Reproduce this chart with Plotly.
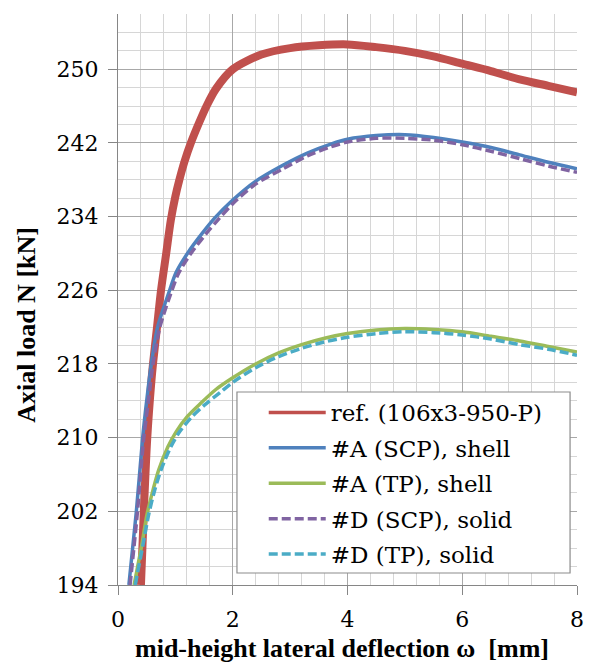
import plotly.graph_objects as go

# Axial load N [kN] versus mid-height lateral deflection ω [mm]
ref_x = [0.40, 0.45, 0.51, 0.58, 0.61, 0.68, 0.75, 0.84, 0.92, 1.00, 1.07, 1.16, 1.27, 1.40,
         1.55, 1.71, 2.00, 2.50, 3.00, 3.50, 4.00, 4.50, 5.00, 5.50, 6.00, 6.50, 7.00, 7.50, 8.00]
ref_n = [194.0, 202.0, 210.0, 216.0, 218.0, 222.0, 226.0, 230.0, 233.6, 236.2, 238.0, 240.0, 242.0, 244.0,
         246.1, 247.9, 250.0, 251.6, 252.3, 252.6, 252.7, 252.4, 252.0, 251.4, 250.6, 249.8, 248.9, 248.2, 247.5]

a_scp_x = [0.19, 0.32, 0.43, 0.50, 0.58, 0.69, 0.90, 1.01, 1.21, 1.47, 1.68, 2.00, 2.39, 2.88,
           3.30, 3.72, 4.00, 4.50, 5.00, 5.50, 6.00, 6.50, 7.00, 7.50, 8.00]
a_scp_n = [194.0, 202.0, 210.0, 214.0, 218.0, 222.0, 226.0, 227.9, 230.0, 232.2, 233.8, 235.8, 237.8, 239.6,
           240.9, 241.9, 242.4, 242.8, 242.9, 242.6, 242.1, 241.5, 240.7, 239.9, 239.2]

a_tp_x = [0.28, 0.41, 0.51, 0.61, 0.71, 0.87, 1.01, 1.21, 1.42, 1.70, 2.00, 2.40, 2.80, 3.20,
          3.60, 4.00, 4.50, 5.00, 5.50, 6.00, 6.50, 7.00, 7.50, 8.00]
a_tp_n = [194.0, 198.2, 201.8, 204.3, 206.5, 209.0, 210.6, 212.3, 213.6, 215.2, 216.5, 218.0, 219.2, 220.1,
          220.8, 221.3, 221.7, 221.85, 221.75, 221.5, 221.0, 220.5, 219.9, 219.3]

d_scp_x = [0.21, 0.34, 0.45, 0.53, 0.61, 0.73, 0.94, 1.06, 1.27, 1.53, 1.75, 2.00, 2.39, 2.88,
           3.30, 3.72, 4.00, 4.50, 5.00, 5.50, 6.00, 6.50, 7.00, 7.50, 8.00]
d_scp_n = [194.0, 202.0, 210.0, 214.0, 218.0, 222.0, 226.0, 227.9, 230.0, 232.1, 233.7, 235.4, 237.5, 239.2,
           240.6, 241.6, 242.1, 242.5, 242.5, 242.3, 241.8, 241.1, 240.3, 239.5, 238.8]

d_tp_x = [0.30, 0.43, 0.54, 0.64, 0.75, 0.92, 1.07, 1.28, 1.50, 1.78, 2.00, 2.40, 2.80, 3.20,
          3.60, 4.00, 4.50, 5.00, 5.50, 6.00, 6.50, 7.00, 7.50, 8.00]
d_tp_n = [194.0, 198.2, 201.8, 204.3, 206.5, 209.0, 210.6, 212.2, 213.5, 214.9, 216.0, 217.6, 218.8, 219.7,
          220.4, 220.9, 221.3, 221.5, 221.4, 221.15, 220.7, 220.1, 219.6, 218.95]

series_names = ["ref. (106x3-950-P)", "#A (SCP), shell", "#A (TP), shell",
                "#D (SCP), solid", "#D (TP), solid"]
x_ticks = [0, 2, 4, 6, 8]
y_ticks = [194, 202, 210, 218, 226, 234, 242, 250]

RED, BLUE, GREEN, PURPLE, CYAN = "#C0504D", "#4F81BD", "#9BBB59", "#8064A2", "#4BACC6"
TEXT_FONT = "DejaVu Serif"
TITLE_FONT = "Liberation Serif"
DASH = "9px,4px"

fig = go.Figure()

# measured curve: thick band; model curves: thinner solid / dashed lines
fig.add_trace(go.Scatter(x=ref_x, y=ref_n, mode="lines", showlegend=False,
                         line=dict(color=RED, width=8, shape="spline", smoothing=0.8)))
fig.add_trace(go.Scatter(x=a_scp_x, y=a_scp_n, mode="lines", showlegend=False,
                         line=dict(color=BLUE, width=3.5, shape="spline", smoothing=0.8)))
fig.add_trace(go.Scatter(x=a_tp_x, y=a_tp_n, mode="lines", showlegend=False,
                         line=dict(color=GREEN, width=3.5, shape="spline", smoothing=0.8)))
fig.add_trace(go.Scatter(x=d_scp_x, y=d_scp_n, mode="lines", showlegend=False,
                         line=dict(color=PURPLE, width=3.5, dash=DASH, shape="spline", smoothing=0.8)))
fig.add_trace(go.Scatter(x=d_tp_x, y=d_tp_n, mode="lines", showlegend=False,
                         line=dict(color=CYAN, width=3.5, dash=DASH, shape="spline", smoothing=0.8)))

# legend entries
legend_styles = [
    dict(color=RED, width=3.5),
    dict(color=BLUE, width=3.5),
    dict(color=GREEN, width=3.5),
    dict(color=PURPLE, width=3.5, dash=DASH),
    dict(color=CYAN, width=3.5, dash=DASH),
]
for i, (name, st) in enumerate(zip(series_names, legend_styles)):
    fig.add_trace(go.Scatter(x=[None], y=[None], mode="lines", name=name, line=st,
                             legendgroup=f"g{i}", showlegend=True))

# legend frame
fig.add_shape(type="rect", xref="paper", yref="paper",
              x0=(238 - 118) / 463, x1=(574 - 118) / 463,
              y0=(585 - 573) / 571, y1=(585 - 392) / 571,
              fillcolor="white", line=dict(color="#8C8C8C", width=1.2), layer="above")

axis_common = dict(
    showline=True, linecolor="#868686", linewidth=1.2,
    ticks="outside", ticklen=9, tickcolor="#868686", tickwidth=1.2,
    showgrid=True, gridcolor="#A8A8A8", gridwidth=1,
    zeroline=False,
    tickfont=dict(family=TEXT_FONT, size=22, color="black"),
)

fig.update_xaxes(range=[0, 8], tickvals=x_ticks, ticktext=[str(v) for v in x_ticks],
                 ticklabelstandoff=5,
                 minor=dict(dtick=0.4, tick0=0, showgrid=True, gridcolor="#D6D6D6", gridwidth=1),
                 **axis_common)
fig.update_yaxes(range=[194, 256], tickvals=y_ticks, ticktext=[str(v) for v in y_ticks],
                 ticklabelstandoff=5,
                 minor=dict(dtick=2, tick0=194, showgrid=True, gridcolor="#D6D6D6", gridwidth=1),
                 **axis_common)

fig.add_annotation(text="<b>mid-height lateral deflection ω  [mm]</b>", xref="paper", yref="paper",
                   x=(344 - 118) / 463, y=(585 - 648) / 571, showarrow=False,
                   font=dict(family=TITLE_FONT, size=26, color="black"), xanchor="center", yanchor="middle")
fig.add_annotation(text="<b>Axial load N [kN]</b>", xref="paper", yref="paper",
                   x=(25 - 118) / 463, y=(585 - 325) / 571, showarrow=False, textangle=-90,
                   font=dict(family=TITLE_FONT, size=26, color="black"), xanchor="center", yanchor="middle")

fig.update_layout(
    width=596, height=664,
    margin=dict(l=118, r=15, t=14, b=79),
    paper_bgcolor="white", plot_bgcolor="white",
    showlegend=True,
    legend=dict(x=(265 - 118) / 463, y=(585 - 391) / 571, xanchor="left", yanchor="top",
                bgcolor="rgba(0,0,0,0)", borderwidth=0, tracegroupgap=2.5, itemwidth=57,
                font=dict(family=TEXT_FONT, size=23, color="black")),
)

fig.write_html("out.html")
